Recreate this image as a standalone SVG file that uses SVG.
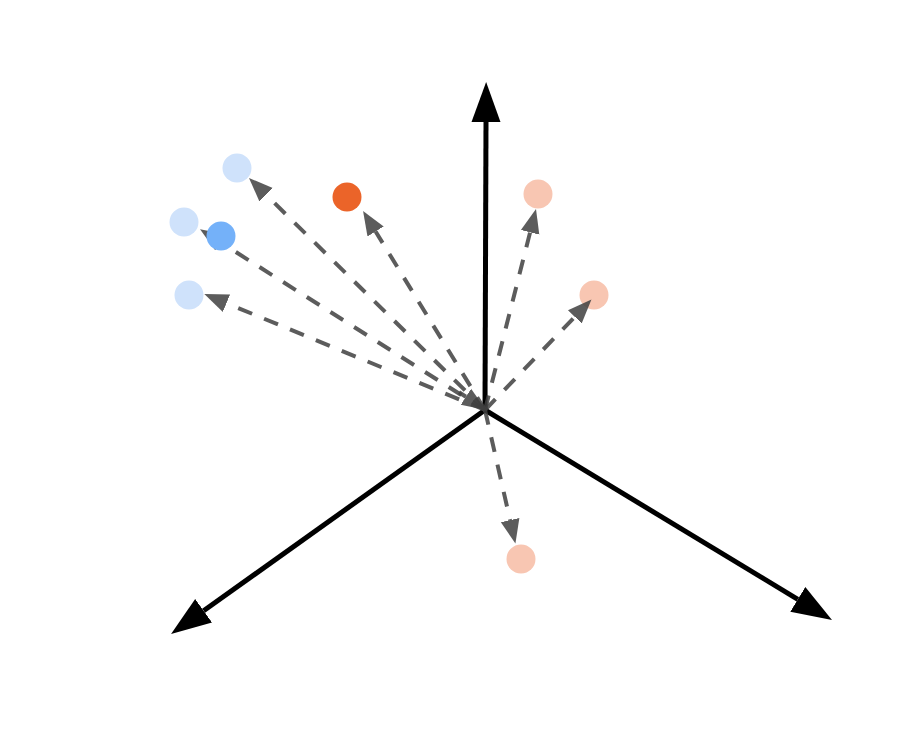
<svg xmlns="http://www.w3.org/2000/svg" width="924" height="744" viewBox="0 0 924 744">
<defs>
<style>
.axis{stroke:#000;stroke-width:5;fill:none}
.vec{stroke:#404040;stroke-opacity:0.85;stroke-width:4;stroke-dasharray:15 13;fill:none}
.lb{fill:#cfe2fb}
.db{fill:#74b1f9}
.lo{fill:#f8c6b2}
.do{fill:#eb6429}
</style>
<marker id="bigHead" markerUnits="userSpaceOnUse" markerWidth="42" markerHeight="32" viewBox="0 -16 42 32" refX="0" refY="0" orient="auto">
<path d="M0,-14.5 L40,0 L0,14.5 z" fill="#000"/>
</marker>
<marker id="smallHead" markerUnits="userSpaceOnUse" markerWidth="26" markerHeight="22" viewBox="0 -11 26 22" refX="0" refY="0" orient="auto">
<path d="M0,-9.5 L24,0 L0,9.5 z" fill="#404040" fill-opacity="0.85"/>
</marker>
</defs>
<rect width="924" height="744" fill="#fff"/>
<g id="axes">
<line class="axis" x1="485" y1="410" x2="486" y2="122" marker-end="url(#bigHead)"/>
<line class="axis" x1="485" y1="410" x2="203.6" y2="610.8" marker-end="url(#bigHead)"/>
<line class="axis" x1="485" y1="410" x2="797.8" y2="599.3" marker-end="url(#bigHead)"/>
</g>
<g id="p1"><circle class="lb" cx="237" cy="168" r="14.5"/></g>
<g id="p2"><circle class="lb" cx="184" cy="222" r="14.5"/></g>
<g id="p3"><circle class="lb" cx="189" cy="295" r="14.5"/></g>
<g id="p4"><circle class="lo" cx="538" cy="194" r="14.5"/></g>
<g id="p5"><circle class="lo" cx="594" cy="295" r="14.5"/></g>
<g id="p6"><circle class="lo" cx="521" cy="559" r="14.5"/></g>
<g id="connectors">
<line class="vec" x1="485" y1="410" x2="266.1" y2="194.8" marker-end="url(#smallHead)"/>
<line class="vec" x1="485" y1="410" x2="375.6" y2="231.5" marker-end="url(#smallHead)"/>
<line class="vec" x1="485" y1="410" x2="220.3" y2="242.2" marker-end="url(#smallHead)"/>
<line class="vec" x1="485" y1="410" x2="226.5" y2="303.2" marker-end="url(#smallHead)"/>
<line class="vec" x1="485" y1="410" x2="530.1" y2="232.3" marker-end="url(#smallHead)"/>
<line class="vec" x1="485" y1="410" x2="574.8" y2="316.8" marker-end="url(#smallHead)"/>
<line class="vec" x1="485" y1="410" x2="510.1" y2="520.1" marker-end="url(#smallHead)"/>
<line class="vec" x1="459" y1="392.3" x2="465.9" y2="396.8" marker-end="url(#smallHead)"/>
</g>
<g id="p7"><circle class="db" cx="221" cy="236" r="14.5"/></g>
<g id="p8"><circle class="do" cx="347" cy="197" r="14.5"/></g>
</svg>
